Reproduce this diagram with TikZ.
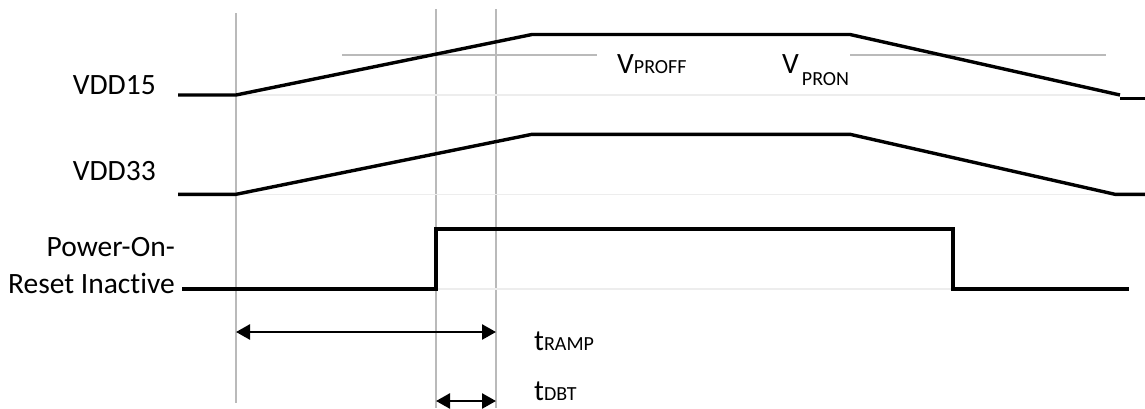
\documentclass[tikz,border=0pt]{standalone}
\usepackage{fontspec}
\setmainfont{Carlito}[Ligatures=NoCommon]
\usetikzlibrary{arrows.meta,positioning}
\newcommand{\subtxt}[1]{{\fontsize{20}{20}\selectfont #1}}

\begin{document}
\begin{tikzpicture}[
        x=1pt, y=-1pt,
        every node/.style={inner sep=0pt, font=\fontsize{29.5}{34}\selectfont},
        signal/.style={line width=3.4pt, line join=miter},
        marker/.style={draw=black!27, line width=1.6pt},
        level/.style={draw=black!7, line width=1.6pt},
        span/.style={line width=2.6pt, {Triangle[length=14pt,width=15pt]}-{Triangle[length=14pt,width=15pt]}}
    ]
    \useasboundingbox (0,0) rectangle (1145,408);

    % time markers
    \coordinate (m0top) at (236,13);  \coordinate (m0bot) at (236,403);
    \coordinate (m1top) at (436,9);   \coordinate (m1bot) at (436,408);
    \coordinate (m2top) at (496,9);   \coordinate (m2bot) at (496,408);
    \draw[marker] (m0top) -- (m0bot);
    \draw[marker] (m1top) -- (m1bot);
    \draw[marker] (m2top) -- (m2bot);

    % low levels
    \draw[level] (236,95) -- (1120,95);
    \draw[level] (236,194.3) -- (1115,194.3);
    \draw[level] (436,289) -- (953,289);

    % threshold
    \draw[marker] (342,55) -- (597,55);
    \draw[marker] (850,55) -- (1106,55);

    % signal names
    \node (vdd15) [anchor=base east] at (156,94.3) {VDD15};
    \node (vdd33) [anchor=base east] at (156,180.7) {VDD33};
    \node (por1) [anchor=base east] at (175,256) {Power-On-};
    \node (por2) [anchor=base east] at (175,293) {Reset Inactive};

    % waveforms
    \draw[signal] (178,95) -- (236,95) -- (532,34.5) -- (850,34.5) -- (1120,95);
    \draw[signal] (1120,98.3) -- (1145,98.3);
    \draw[signal] (178,194.3) -- (236,194.3) -- (532,134.3) -- (850,134.3)
        -- (1115,194.3) -- (1145,194.3);
    \draw[signal] (182,289) -- (436,289) -- (436,229) -- (953,229)
        -- (953,289) -- (1129,289);

    % thresholds
    \node (vproff) [anchor=base west] at (617,73) {V\subtxt{PROFF}};
    \node (vpron) [anchor=base west] at (782,73) {V\hspace{3pt}\raisebox{-12pt}{\subtxt{PRON}}};

    % timings
    \coordinate (rampa) at (236,332);
    \coordinate (rampb) at (496,332);
    \coordinate (dbta) at (436,401);
    \coordinate (dbtb) at (496,401);
    \draw[span] (rampa) -- (rampb);
    \draw[span] (dbta) -- (dbtb);
    \node (tramp) [anchor=base west] at (534,350) {t\subtxt{RAMP}};
    \node (tdbt) [anchor=base west] at (534,400) {t\subtxt{DBT}};
\end{tikzpicture}
\end{document}
